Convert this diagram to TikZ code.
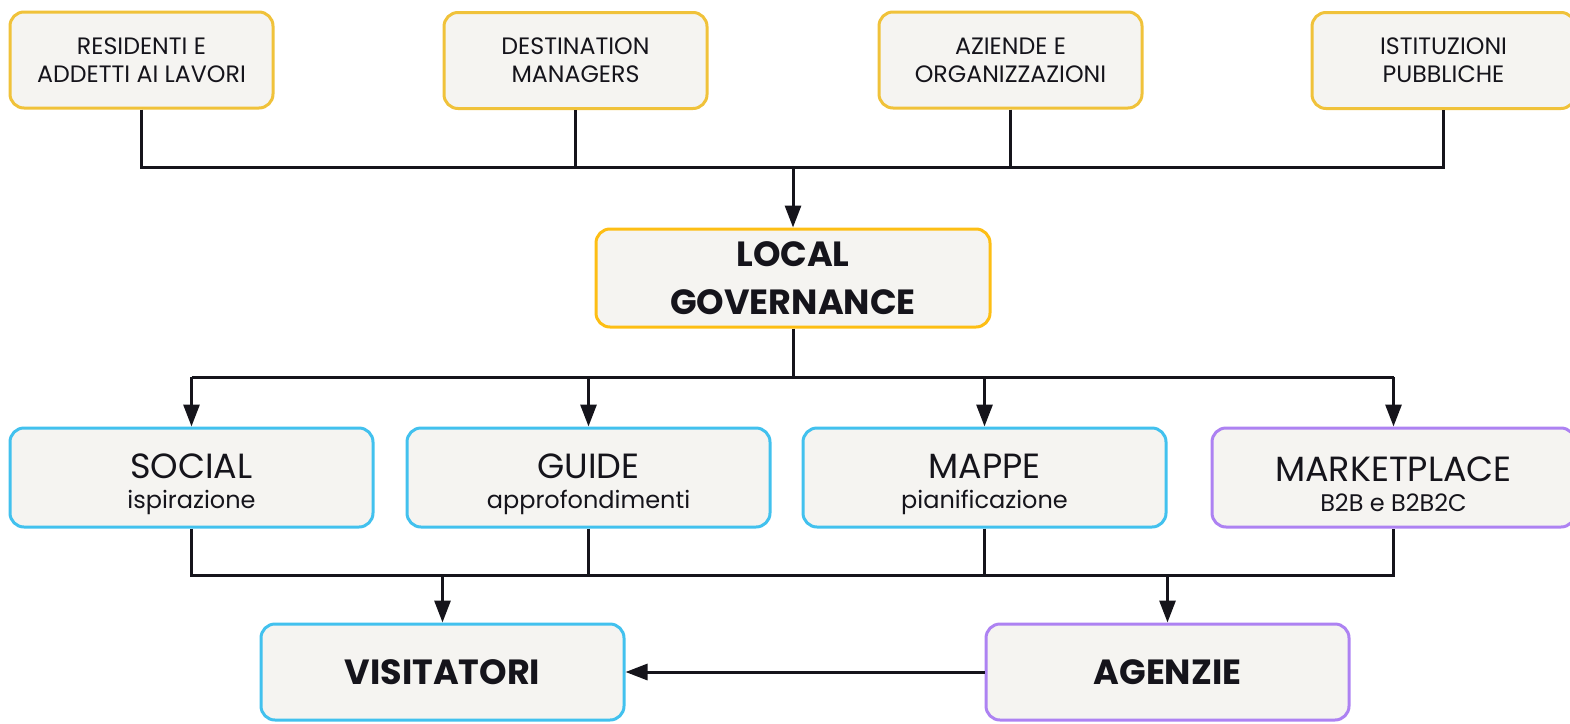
\documentclass[tikz,border=0pt]{standalone}
\usepackage{fontspec}
\setmainfont{Poppins}
\usetikzlibrary{arrows.meta}
\definecolor{ink}{HTML}{15141B}
\definecolor{boxfill}{HTML}{F5F4F1}
\definecolor{ylw}{HTML}{F0C23A}
\definecolor{gold}{HTML}{FDBE14}
\definecolor{cyanb}{HTML}{42C1EE}
\definecolor{purp}{HTML}{AD82F2}
\begin{document}
\begin{tikzpicture}[x=1pt,y=-1pt,
  box/.style={draw, rounded corners=14pt, fill=boxfill, line width=3pt, align=center, text=ink, inner sep=0pt},
  topbox/.style={box, draw=ylw, minimum width=263pt, minimum height=96pt, font=\fontsize{23.7}{28}\selectfont},
  midbox/.style={box, minimum width=363pt, minimum height=99pt},
  midtxt/.style={align=center, text=ink, inner sep=0pt, font=\fontsize{35}{30}\selectfont},
  lowbox/.style={box, minimum width=363pt, minimum height=96pt, font=\fontsize{35}{40}\selectfont\bfseries},
  conn/.style={draw=ink, line width=3pt},
  arr/.style={conn, -{Triangle[length=22pt,width=16pt]}},
]
\useasboundingbox (0,0) rectangle (1570,723);

% top row
\node[topbox] (r1) at (141.5,60) {RESIDENTI E\\ADDETTI AI LAVORI};
\node[topbox] (r2) at (575.5,60.5) {DESTINATION\\MANAGERS};
\node[topbox] (r3) at (1010.5,60) {AZIENDE E\\ORGANIZZAZIONI};
\node[topbox] (r4) at (1443.5,60.5) {ISTITUZIONI\\PUBBLICHE};

% local governance
\node[box, draw=gold, minimum width=394pt, minimum height=98pt, font=\fontsize{35}{48}\selectfont\bfseries] (lg) at (793,278) {LOCAL\\GOVERNANCE};

% middle row
\node[midbox, draw=cyanb] (soc) at (191.5,477.5) {};
\node[midbox, draw=cyanb] (gui) at (588.5,477.5) {};
\node[midbox, draw=cyanb] (map) at (984.5,477.5) {};
\node[midbox, draw=purp] (mkt) at (1393.5,477.5) {};
\node[midtxt] (soct) at ([yshift=-7pt]soc.center) {SOCIAL\\{\fontsize{24}{30}\selectfont ispirazione}};
\node[midtxt] (guit) at ([yshift=-7pt]gui.center) {GUIDE\\{\fontsize{24}{30}\selectfont approfondimenti}};
\node[midtxt] (mapt) at ([yshift=-7pt]map.center) {MAPPE\\{\fontsize{24}{30}\selectfont pianificazione}};
\node[midtxt] (mktt) at ([yshift=-7pt]mkt.center) {MARKETPLACE\\{\fontsize{24}{30}\selectfont B2B e B2B2C}};

% bottom row
\node[lowbox, draw=cyanb] (vis) at (442.5,672) {VISITATORI};
\node[lowbox, draw=purp] (age) at (1167.5,672) {AGENZIE};

% buses
\coordinate (b1) at (0,167);
\coordinate (b2) at (0,377);
\coordinate (b3) at (0,575);

% top connectors
\draw[conn] (r1.south) |- (r4.south |- b1) -- (r4.south);
\draw[conn] (r2.south) -- (r2.south |- b1);
\draw[conn] (r3.south) -- (r3.south |- b1);
\draw[arr] (lg.north |- b1) -- (lg.north);

% middle connectors
\draw[conn] (lg.south) -- (lg.south |- b2);
\draw[conn] (soc.north |- b2) -- (mkt.north |- b2);
\draw[arr] (soc.north |- b2) -- (soc.north);
\draw[arr] (gui.north |- b2) -- (gui.north);
\draw[arr] (map.north |- b2) -- (map.north);
\draw[arr] (mkt.north |- b2) -- (mkt.north);

% bottom connectors
\draw[conn] (soc.south) |- (mkt.south |- b3) -- (mkt.south);
\draw[conn] (gui.south) -- (gui.south |- b3);
\draw[conn] (map.south) -- (map.south |- b3);
\draw[arr] (vis.north |- b3) -- (vis.north);
\draw[arr] (age.north |- b3) -- (age.north);
\draw[arr] (age.west) -- (vis.east);
\end{tikzpicture}
\end{document}
